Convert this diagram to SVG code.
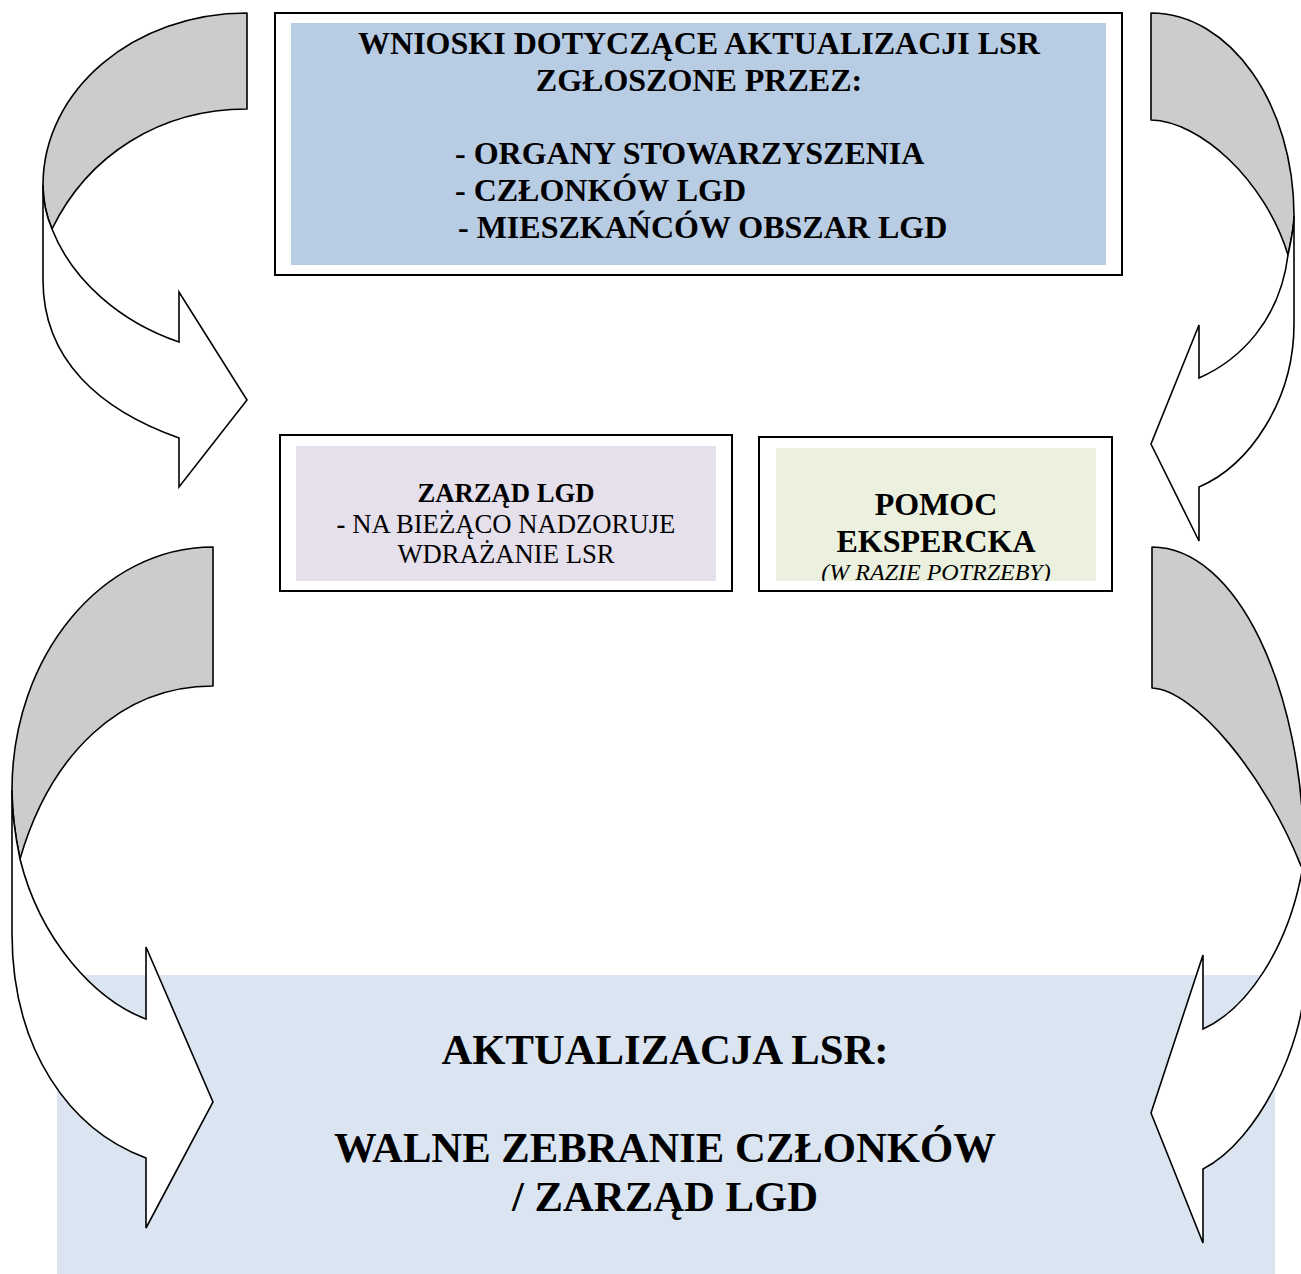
<svg xmlns="http://www.w3.org/2000/svg" width="1301" height="1274" viewBox="0 0 1301 1274">
<style>
  .frame { fill: #ffffff; stroke: #000000; stroke-width: 2; }
  .t { font-family: "Liberation Serif", "Times New Roman", serif; fill: #000000; }
  .b { font-weight: bold; }
  .back { fill: #cccccc; stroke: #000000; stroke-width: 1.6; stroke-linejoin: round; }
  .front { fill: #ffffff; stroke: #000000; stroke-width: 1.6; stroke-linejoin: miter; }
</style>
<defs>
  <clipPath id="clipPomoc"><rect x="776" y="448" width="320" height="133"/></clipPath>
</defs>
<rect x="0" y="0" width="1301" height="1274" fill="#ffffff"/>

<g id="node-wnioski">
  <rect class="frame" x="275" y="13" width="847" height="262"/>
  <rect x="291" y="23" width="815" height="242" fill="#b8cce4"/>
  <text class="t b" font-size="32" x="699" y="54" text-anchor="middle">WNIOSKI DOTYCZĄCE AKTUALIZACJI LSR</text>
  <text class="t b" font-size="32" x="699" y="90.5" text-anchor="middle">ZGŁOSZONE PRZEZ:</text>
  <text class="t b" font-size="32" x="455" y="164">- ORGANY STOWARZYSZENIA</text>
  <text class="t b" font-size="32" x="455" y="201">- CZŁONKÓW LGD</text>
  <text class="t b" font-size="32" x="458" y="237.5">- MIESZKAŃCÓW OBSZAR LGD</text>
</g>

<g id="node-zarzad">
  <rect class="frame" x="280" y="435" width="452" height="156"/>
  <rect x="296" y="446" width="420" height="135" fill="#e5e0ec"/>
  <text class="t b" font-size="26.7" x="506" y="502" text-anchor="middle">ZARZĄD LGD</text>
  <text class="t" font-size="26.7" x="506" y="532.5" text-anchor="middle"><tspan font-weight="bold">-</tspan> NA BIEŻĄCO NADZORUJE</text>
  <text class="t" font-size="26.7" x="506" y="563" text-anchor="middle">WDRAŻANIE LSR</text>
</g>

<g id="node-pomoc">
  <rect class="frame" x="759" y="437" width="353" height="154"/>
  <rect x="776" y="448" width="320" height="133" fill="#ebf1de"/>
  <text class="t b" font-size="32" x="936" y="515" text-anchor="middle">POMOC</text>
  <text class="t b" font-size="32" x="936" y="552" text-anchor="middle">EKSPERCKA</text>
  <text class="t" font-size="24" font-style="italic" x="936" y="579.5" text-anchor="middle" clip-path="url(#clipPomoc)">(W RAZIE POTRZEBY)</text>
</g>

<g id="node-aktualizacja">
  <rect x="57" y="975" width="1218" height="299" fill="#dbe5f1"/>
  <text class="t b" font-size="42.7" x="665" y="1064" text-anchor="middle">AKTUALIZACJA LSR:</text>
  <text class="t b" font-size="42.7" x="665" y="1162" text-anchor="middle">WALNE ZEBRANIE CZŁONKÓW</text>
  <text class="t b" font-size="42.7" x="665" y="1211" text-anchor="middle">/ ZARZĄD LGD</text>
</g>

<g id="connectors">
  <g id="arrow-top-left">
    <path class="back" d="M247,13 L247,109 C160,109 88,155 52,229 C46,215 43,200 43,185 C43,90 134,13 247,13 Z"/>
    <path class="front" d="M43,185 L43,280 C43,360 100,410 179,438 L179,487 L247,400 L179,292 L179,342 C120,322 72,280 52,229 C46,215 43,200 43,185 Z"/>
  </g>
  <g id="arrow-top-right">
    <path class="back" d="M1151,13 L1151,120 C1200,121 1265,180 1288,255 C1291,240 1294,228 1294,216 C1294,104 1230,13 1151,13 Z"/>
    <path class="front" d="M1294,216 L1294,324 C1294,400 1250,465 1199,487 L1199,541 L1151,444 L1199,325 L1199,378 C1240,360 1280,320 1288,255 C1291,240 1294,228 1294,216 Z"/>
  </g>
  <g id="arrow-bottom-left">
    <path class="back" d="M213,547 L213,686 C120,686 50,755 20,859 C15,835 12,812 12,790 C12,656 102,547 213,547 Z"/>
    <path class="front" d="M12,790 L12,933 C12,1050 70,1130 146,1158 L146,1228 L213,1102 L146,947 L146,1019 C95,1000 40,940 20,859 C15,835 12,812 12,790 Z"/>
  </g>
  <g id="arrow-bottom-right">
    <path class="back" d="M1152,547 L1152,688 C1195,690 1265,775 1301,866 L1304,860 C1304,687 1236,547 1152,547 Z"/>
    <path class="front" d="M1304,860 L1304,985 C1304,1040 1260,1140 1203,1169 L1203,1243 L1151,1113 L1203,955 L1203,1029 C1245,1010 1290,950 1304,860 Z"/>
  </g>
</g>
</svg>
